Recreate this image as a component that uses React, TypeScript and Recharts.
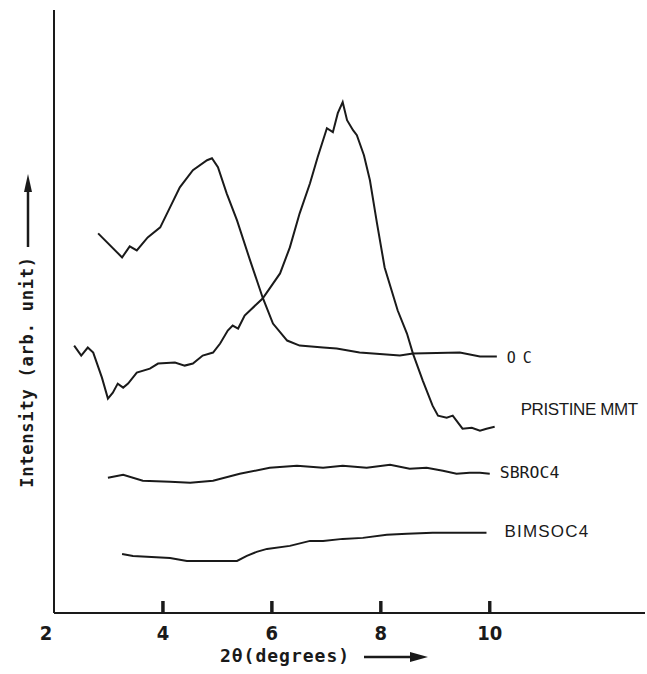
import React from "react";
import { LineChart, Line, XAxis, YAxis } from "recharts";

const xTicks = [2, 4, 6, 8, 10];
const tickMarks = [4, 6, 8, 10];
const TICK_LEN = 12;

const ocData = [
  { x: 2.81, y: 379 }, { x: 3.25, y: 355 }, { x: 3.39, y: 366 }, { x: 3.52, y: 362 },
  { x: 3.72, y: 375 }, { x: 3.95, y: 385 }, { x: 4.13, y: 405 }, { x: 4.31, y: 425 },
  { x: 4.55, y: 442 }, { x: 4.81, y: 452 }, { x: 4.9, y: 454 }, { x: 5.01, y: 445 },
  { x: 5.17, y: 419 }, { x: 5.36, y: 392 }, { x: 5.6, y: 352 }, { x: 5.83, y: 315 },
  { x: 6.02, y: 289 }, { x: 6.28, y: 272 }, { x: 6.51, y: 267 }, { x: 6.94, y: 265 },
  { x: 7.19, y: 264 }, { x: 7.61, y: 260 }, { x: 8.35, y: 257 }, { x: 8.59, y: 259 },
  { x: 9.45, y: 260 }, { x: 9.82, y: 256 }, { x: 10.13, y: 256 },
];

const pristineData = [
  { x: 2.37, y: 267 }, { x: 2.5, y: 257 }, { x: 2.62, y: 265 }, { x: 2.72, y: 260 },
  { x: 2.88, y: 235 }, { x: 2.99, y: 214 }, { x: 3.08, y: 220 }, { x: 3.17, y: 229 },
  { x: 3.27, y: 225 }, { x: 3.36, y: 229 }, { x: 3.52, y: 240 }, { x: 3.76, y: 244 },
  { x: 3.91, y: 249 }, { x: 4.22, y: 250 }, { x: 4.4, y: 247 }, { x: 4.55, y: 249 },
  { x: 4.73, y: 257 }, { x: 4.92, y: 260 }, { x: 5.05, y: 269 }, { x: 5.19, y: 282 },
  { x: 5.28, y: 287 }, { x: 5.38, y: 284 }, { x: 5.5, y: 297 }, { x: 5.83, y: 314 },
  { x: 6.15, y: 339 }, { x: 6.33, y: 365 }, { x: 6.51, y: 399 }, { x: 6.7, y: 429 },
  { x: 6.84, y: 455 }, { x: 7.01, y: 484 }, { x: 7.12, y: 480 }, { x: 7.21, y: 499 },
  { x: 7.3, y: 510 }, { x: 7.38, y: 492 }, { x: 7.49, y: 482 }, { x: 7.56, y: 477 },
  { x: 7.69, y: 457 }, { x: 7.8, y: 432 }, { x: 7.93, y: 389 }, { x: 8.07, y: 345 },
  { x: 8.31, y: 302 }, { x: 8.48, y: 279 }, { x: 8.59, y: 259 }, { x: 8.77, y: 232 },
  { x: 8.95, y: 207 }, { x: 9.05, y: 197 }, { x: 9.21, y: 195 }, { x: 9.32, y: 197 },
  { x: 9.5, y: 184 }, { x: 9.67, y: 185 }, { x: 9.82, y: 182 }, { x: 9.94, y: 184 },
  { x: 10.09, y: 186 },
];

const sbrData = [
  { x: 2.99, y: 135 }, { x: 3.27, y: 138 }, { x: 3.63, y: 132 }, { x: 4.13, y: 131 },
  { x: 4.5, y: 130 }, { x: 4.92, y: 132 }, { x: 5.41, y: 139 }, { x: 5.96, y: 145 },
  { x: 6.46, y: 147 }, { x: 6.94, y: 145 }, { x: 7.3, y: 147 }, { x: 7.74, y: 145 },
  { x: 8.17, y: 148 }, { x: 8.53, y: 144 }, { x: 8.84, y: 145 }, { x: 9.14, y: 142 },
  { x: 9.39, y: 139 }, { x: 9.63, y: 140 }, { x: 9.82, y: 140 }, { x: 10.0, y: 139 },
];

const bimsData = [
  { x: 3.25, y: 59 }, { x: 3.45, y: 57 }, { x: 4.13, y: 55 }, { x: 4.44, y: 52 },
  { x: 5.36, y: 52 }, { x: 5.54, y: 57 }, { x: 5.72, y: 61 }, { x: 5.91, y: 64 },
  { x: 6.33, y: 67 }, { x: 6.7, y: 72 }, { x: 6.94, y: 72 }, { x: 7.3, y: 74 },
  { x: 7.67, y: 75 }, { x: 8.11, y: 78 }, { x: 8.48, y: 79 }, { x: 8.95, y: 80 },
  { x: 9.39, y: 80 }, { x: 9.94, y: 80 },
];

const seriesLabels = ["OC", "PRISTINE MMT", "SBROC4", "BIMSOC4"];

const INK = "#1a1a1a";

const XTick = (props: any) => {
  const { x, y, payload } = props;
  const v = Number(payload.value);
  return (
    <g>
      {tickMarks.includes(v) && (
        <rect x={x - 1.5} y={y - TICK_LEN} width={3} height={TICK_LEN} fill={INK} />
      )}
      <text
        x={v === 2 ? x - 8 : x}
        y={y + 27}
        textAnchor="middle"
        fontFamily="DejaVu Sans Condensed"
        fontWeight="bold"
        fontSize={20}
        fill={INK}
      >
        {payload.value}
      </text>
    </g>
  );
};

type LabelStyle = { dx: number; dy: number; family: string; size: number; spacing: number };

const makeEndLabel = (text: string, n: number, s: LabelStyle) => (props: any) => {
  const { x, y, index } = props;
  if (index !== n - 1) return null;
  return (
    <text
      x={x + s.dx}
      y={y + s.dy}
      dominantBaseline="middle"
      fontFamily={s.family}
      fontSize={s.size}
      letterSpacing={s.spacing}
      fill={INK}
    >
      {text}
    </text>
  );
};

const XTitle = (props: any) => {
  const { viewBox } = props;
  const base = viewBox.y + 49;
  return (
    <g>
      <text
        x={285}
        y={base}
        textAnchor="middle"
        fontFamily="DejaVu Sans Mono"
        fontWeight="bold"
        fontSize={18}
        letterSpacing={1}
        fill={INK}
      >
        2θ(degrees)
      </text>
      <line x1={364} y1={base - 5} x2={412} y2={base - 5} stroke={INK} strokeWidth={2.5} />
      <polygon points={`${410},${base - 10} ${428},${base - 5} ${410},${base}`} fill={INK} />
    </g>
  );
};

const YTitle = (props: any) => {
  const { viewBox } = props;
  const cx = viewBox.x + viewBox.width - 26;
  return (
    <g>
      <text
        x={cx}
        y={372}
        transform={`rotate(-90 ${cx} ${372})`}
        textAnchor="middle"
        dominantBaseline="middle"
        fontFamily="DejaVu Sans Mono"
        fontWeight="bold"
        fontSize={17}
        letterSpacing={0.8}
        fill={INK}
      >
        Intensity (arb. unit)
      </text>
      <line x1={cx} y1={247} x2={cx} y2={190} stroke={INK} strokeWidth={2.5} />
      <polygon points={`${cx - 4},${192} ${cx},${174} ${cx + 4},${192}`} fill={INK} />
    </g>
  );
};

export default function App() {
  return (
    <div style={{ position: "absolute", left: 0, top: 0, background: "#fff" }}>
      <LineChart
        width={647}
        height={674}
        margin={{ top: 10, right: 2, bottom: 0, left: 0 }}
      >
        <XAxis
          type="number"
          dataKey="x"
          domain={[2, 12.85]}
          ticks={xTicks}
          allowDataOverflow
          height={61}
          tickSize={0}
          tickMargin={0}
          tickLine={false}
          tick={<XTick />}
          axisLine={{ stroke: INK, strokeWidth: 2 }}
          label={{ content: <XTitle /> }}
        />
        <YAxis
          type="number"
          dataKey="y"
          domain={[0, 602]}
          width={54}
          tick={false}
          tickLine={false}
          axisLine={{ stroke: INK, strokeWidth: 2 }}
          label={{ content: <YTitle /> }}
        />
        {tickMarks.map((t) => (
          <Line
            key={`tick-${t}`}
            data={[{ x: t, y: 0 }, { x: t, y: TICK_LEN }]}
            dataKey="y"
            type="linear"
            stroke={INK}
            strokeWidth={3}
            dot={false}
            isAnimationActive={false}
          />
        ))}
        <Line
          data={ocData}
          dataKey="y"
          type="linear"
          stroke={INK}
          strokeWidth={2}
          dot={false}
          isAnimationActive={false}
          label={makeEndLabel(seriesLabels[0], ocData.length, { dx: 10, dy: 2, family: "DejaVu Sans Mono", size: 15, spacing: 7 })}
        />
        <Line
          data={pristineData}
          dataKey="y"
          type="linear"
          stroke={INK}
          strokeWidth={2}
          dot={false}
          isAnimationActive={false}
          label={makeEndLabel(seriesLabels[1], pristineData.length, { dx: 26, dy: -16, family: "Liberation Sans", size: 17, spacing: -0.4 })}
        />
        <Line
          data={sbrData}
          dataKey="y"
          type="linear"
          stroke={INK}
          strokeWidth={2}
          dot={false}
          isAnimationActive={false}
          label={makeEndLabel(seriesLabels[2], sbrData.length, { dx: 10, dy: 0, family: "DejaVu Sans Mono", size: 16.5, spacing: 0 })}
        />
        <Line
          data={bimsData}
          dataKey="y"
          type="linear"
          stroke={INK}
          strokeWidth={2}
          dot={false}
          isAnimationActive={false}
          label={makeEndLabel(seriesLabels[3], bimsData.length, { dx: 18, dy: 0, family: "Liberation Sans", size: 17, spacing: 1.2 })}
        />
      </LineChart>
    </div>
  );
}
